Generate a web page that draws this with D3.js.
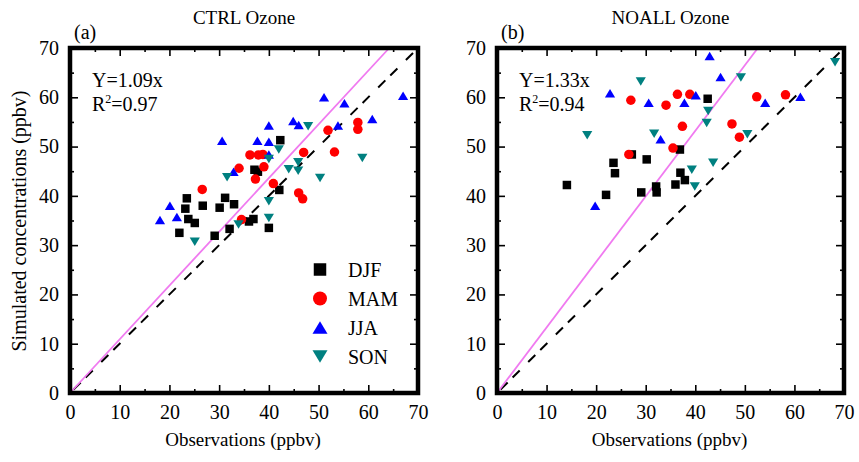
<!DOCTYPE html>
<html>
<head>
<meta charset="utf-8">
<script src="https://cdn.jsdelivr.net/npm/d3@7"></script>
<style>
  body { margin: 0; background: #fff; }
  svg text { font-family: "Liberation Serif", "Times New Roman", serif; fill: #000; }
</style>
</head>
<body>
<div id="container"></div>
<script>
// observations vs simulated ozone (ppbv), [obs, sim]
const ctrlDJF = [[23.5,39.5],[23.2,37.4],[23.8,35.3],[25.1,34.5],[22.0,32.5],[26.7,38.0],[30.1,37.6],[31.2,39.6],[33.0,38.3],[29.1,31.9],[32.1,33.3],[36.0,34.8],[36.9,35.3],[40.0,33.5],[37.1,45.3],[37.8,44.9],[42.3,51.3],[42.1,41.2]]
const ctrlMAM = [[26.6,41.3],[34.0,45.6],[36.2,48.3],[37.9,48.3],[38.8,48.4],[39.0,45.9],[37.3,43.4],[40.9,42.5],[34.5,35.2],[46.0,40.6],[46.8,39.4],[47.0,48.8],[51.9,53.3],[53.2,48.9],[57.9,54.9],[57.9,53.5]]
const ctrlJJA = [[18.1,35.1],[20.1,38.0],[21.5,35.7],[30.6,51.2],[32.9,44.9],[37.7,51.2],[40.0,54.3],[40.0,51.0],[40.0,48.4],[44.9,55.2],[46.0,54.4],[51.1,60.0],[55.2,58.8],[53.9,54.3],[60.8,55.6],[67.0,60.3]]
const ctrlSON = [[25.1,30.7],[31.6,43.8],[33.9,34.2],[40.0,47.5],[40.0,38.9],[40.0,35.5],[42.0,49.4],[44.0,45.4],[45.9,46.8],[45.9,45.1],[47.9,54.1],[50.3,43.6],[58.8,47.7]]

const noallDJF = [[14.1,42.2],[22.0,40.2],[23.5,46.7],[23.8,44.6],[27.2,48.4],[30.2,47.4],[29.1,40.7],[32.1,41.9],[32.2,40.7],[36.0,42.3],[36.9,49.4],[37.0,44.7],[37.9,43.2],[42.5,59.7]]
const noallMAM = [[27.0,59.4],[26.6,48.4],[34.1,58.4],[36.4,60.6],[38.9,60.6],[37.4,54.1],[35.5,49.7],[47.4,54.6],[48.9,51.9],[52.4,60.1],[58.2,60.5]]
const noallJJA = [[19.8,38.0],[22.8,60.8],[30.6,58.9],[37.8,58.9],[40.1,60.4],[33.0,51.5],[42.9,68.4],[45.1,64.1],[54.1,58.9],[61.2,60.1]]
const noallSON = [[18.2,52.3],[29.0,63.2],[31.7,52.6],[42.6,57.2],[42.3,54.8],[49.2,64.0],[50.5,52.5],[39.3,45.3],[39.9,41.9],[43.6,46.7],[68.2,67.1]]

const seasons = ["DJF", "MAM", "JJA", "SON"]
const slopes = [1.09, 1.33]
const r2 = ["0.97", "0.94"]
const titles = ["CTRL Ozone", "NOALL Ozone"]
const panelTags = ["(a)", "(b)"]
const majorTicks = [0, 10, 20, 30, 40, 50, 60, 70]
const minorTicks = [5, 15, 25, 35, 45, 55, 65]

const w = 859
const h = 462

const colors = { DJF: "#000000", MAM: "#ff0000", JJA: "#0000ff", SON: "#008080" }

// marker shapes, centred on 0,0
function marker(kind, s) {
    if (kind === "DJF") return `M${-s/2},${-s/2}h${s}v${s}h${-s}Z`
    if (kind === "MAM") {
        const r = s * 0.56
        return `M${-r},0a${r},${r} 0 1,0 ${2*r},0a${r},${r} 0 1,0 ${-2*r},0Z`
    }
    const tw = s * 1.2, th = s * 1.0
    if (kind === "JJA") return `M0,${-th/2}L${tw/2},${th/2}L${-tw/2},${th/2}Z`
    return `M0,${th/2}L${tw/2},${-th/2}L${-tw/2},${-th/2}Z`
}

const svg = d3.select("#container")
    .append("svg")
    .attr("width", w)
    .attr("height", h)

const panels = [
    { left: 70, right: 418, data: [ctrlDJF, ctrlMAM, ctrlJJA, ctrlSON] },
    { left: 497, right: 844, data: [noallDJF, noallMAM, noallJJA, noallSON] }
]
const plotTop = 48
const plotBottom = 393

panels.forEach((p, pi) => {
    const x = d3.scaleLinear().domain([0, 70]).range([p.left, p.right])
    const y = d3.scaleLinear().domain([0, 70]).range([plotBottom, plotTop])
    const g = svg.append("g")

    // ticks (inward, all sides)
    const addAxis = (axisFn, scale, vals, size, pad, tr, labels) => {
        const a = axisFn(scale).tickValues(vals).tickSize(-size).tickPadding(pad)
        if (!labels) a.tickFormat("")
        const ag = g.append("g").attr("transform", tr).call(a)
        ag.select(".domain").remove()
        ag.selectAll("line").attr("stroke", "#000").attr("stroke-width", 1.6)
        ag.selectAll("text").style("font-size", "20px").attr("fill", "#000")
        return ag
    }
    addAxis(d3.axisBottom, x, majorTicks, 8, 12, `translate(0,${plotBottom})`, true)
    addAxis(d3.axisBottom, x, minorTicks, 4, 12, `translate(0,${plotBottom})`, false)
    addAxis(d3.axisTop, x, majorTicks, 8, 0, `translate(0,${plotTop})`, false)
    addAxis(d3.axisTop, x, minorTicks, 4, 0, `translate(0,${plotTop})`, false)
    addAxis(d3.axisLeft, y, majorTicks, 8, 11, `translate(${p.left},0)`, true)
    addAxis(d3.axisLeft, y, minorTicks, 4, 11, `translate(${p.left},0)`, false)
    addAxis(d3.axisRight, y, majorTicks, 8, 0, `translate(${p.right},0)`, false)
    addAxis(d3.axisRight, y, minorTicks, 4, 0, `translate(${p.right},0)`, false)

    // 1:1 line
    g.append("line")
        .attr("x1", x(0)).attr("y1", y(0))
        .attr("x2", x(70)).attr("y2", y(70))
        .attr("stroke", "#000")
        .attr("stroke-width", 2)
        .attr("stroke-dasharray", "0,5,10,7,10,7")

    // fit line
    g.append("line")
        .attr("x1", x(0)).attr("y1", y(0))
        .attr("x2", x(70 / slopes[pi])).attr("y2", y(70))
        .attr("stroke", "#f07af0")
        .attr("stroke-width", 1.8)

    p.data.forEach((pts, si) => {
        g.selectAll(null)
            .data(pts)
            .enter()
            .append("path")
            .attr("d", marker(seasons[si], 8.5))
            .attr("transform", d => `translate(${x(d[0])},${y(d[1])})`)
            .attr("fill", colors[seasons[si]])
    })

    // frame
    g.append("rect")
        .attr("x", p.left).attr("y", plotTop)
        .attr("width", p.right - p.left).attr("height", plotBottom - plotTop)
        .attr("fill", "none")
        .attr("stroke", "#000")
        .attr("stroke-width", 4.5)

    const cx = (p.left + p.right) / 2
    svg.append("text").attr("x", cx).attr("y", 24)
        .attr("text-anchor", "middle").style("font-size", "19px").text(titles[pi])
    svg.append("text").attr("x", p.left + 4).attr("y", 39)
        .style("font-size", "20px").text(panelTags[pi])
    svg.append("text").attr("x", cx - 1).attr("y", 446)
        .attr("text-anchor", "middle").style("font-size", "19px").text("Observations (ppbv)")

    const ann = svg.append("text").attr("x", p.left + 22).attr("y", 87).style("font-size", "20px")
    ann.text(`Y=${slopes[pi].toFixed(2)}x`)
    const r = svg.append("text").attr("x", p.left + 22).attr("y", 111).style("font-size", "20px")
    r.append("tspan").text("R")
    r.append("tspan").attr("dy", -8).style("font-size", "12px").text("2")
    r.append("tspan").attr("dy", 8).text(`=${r2[pi]}`)
})

// y label
svg.append("text")
    .attr("transform", "translate(26,221) rotate(-90)")
    .attr("text-anchor", "middle")
    .style("font-size", "20px")
    .text("Simulated concentrations (ppbv)")

// legend
const legend = svg.append("g").attr("transform", "translate(320,269.5)")
seasons.forEach((s, i) => {
    legend.append("path")
        .attr("d", marker(s, 12.5))
        .attr("transform", `translate(0,${i * 29})`)
        .attr("fill", colors[s])
    legend.append("text")
        .attr("x", 28).attr("y", i * 29 + 7.5)
        .style("font-size", "20px")
        .text(s)
})
</script>
</body>
</html>
